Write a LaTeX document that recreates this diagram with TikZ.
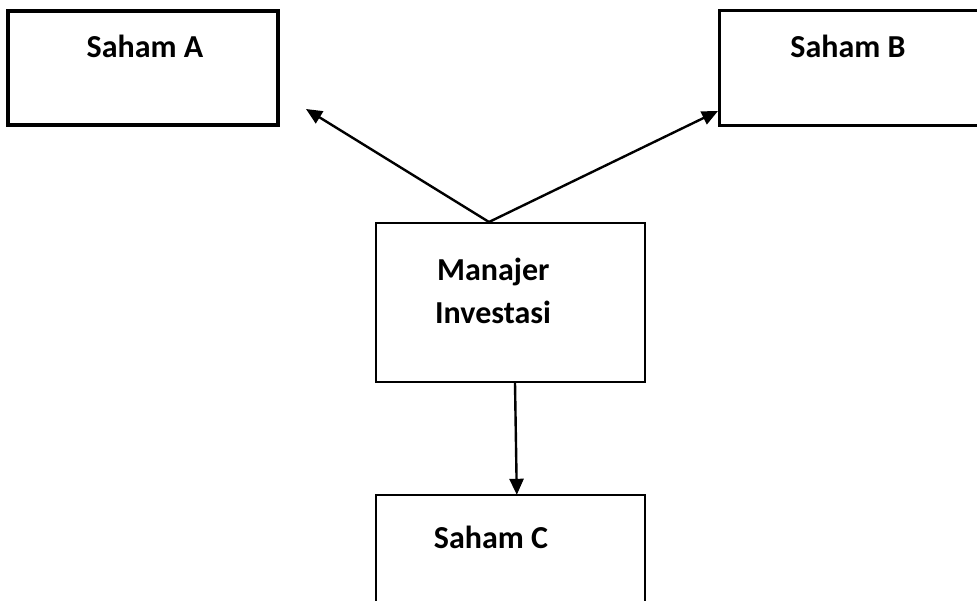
\documentclass[tikz,border=0pt]{standalone}
\usepackage{fontspec}
\setmainfont{Carlito}
\usetikzlibrary{arrows.meta,calc}
\begin{document}
\begin{tikzpicture}[x=1pt,y=-1pt,
  thickbox/.style={draw,line width=3.2pt,rectangle,inner sep=0pt},
  thinbox/.style={draw,line width=2pt,rectangle,inner sep=0pt},
  openbox/.style={rectangle,inner sep=0pt},
  thickline/.style={line width=3.2pt,line join=miter},
  thinline/.style={line width=2pt,line join=miter},
  lbl/.style={font=\bfseries\fontsize{32}{38}\selectfont,inner sep=0pt,anchor=base},
  conn/.style={line width=2.4pt,-{Triangle[length=16pt,width=14pt]}}]
\useasboundingbox (0,0) rectangle (977,600);
\node[thickbox,minimum width=270pt,minimum height=114pt] (a) at (143,68) {};
\node[openbox,minimum width=257pt,minimum height=114pt] (b) at (848.5,68) {};
\draw[thickline] (b.north east) -- (b.north west) -- (b.south west) -- (b.south east);
\node[thinbox,minimum width=269pt,minimum height=159pt] (mi) at (510.5,302.5) {};
\node[openbox,minimum width=269pt,minimum height=106pt] (c) at (510.5,548) {};
\draw[thinline] (c.south west) -- (c.north west) -- (c.north east) -- (c.south east);
\node[lbl] (ta) at (145,57) {Saham A};
\node[lbl] (tb) at (848,57) {Saham B};
\node[lbl,anchor=base west] (tm1) at (437,280) {Manajer};
\node[lbl,anchor=base west] (tm2) at (435,323) {Investasi};
\node[lbl] (tc) at (491,548) {Saham C};
\coordinate (src) at ($(mi.north west)+(114,0)$);
\coordinate (ea) at (306,109);
\coordinate (eb) at (718,111);
\draw[conn] (src) -- (ea);
\draw[conn] (src) -- (eb);
\draw[conn] ($(mi.south west)+(140,0)$) -- ($(c.north west)+(141,0)$);
\end{tikzpicture}
\end{document}
